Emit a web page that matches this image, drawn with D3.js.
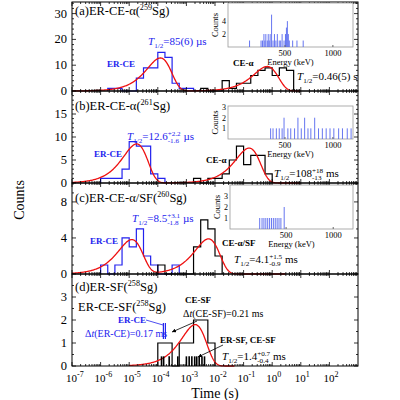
<!DOCTYPE html>
<html lang="en">
<head>
<meta charset="UTF-8">
<title>Sg decay time spectra</title>
<style>
  body { margin: 0; background: #fff; }
  svg text { font-family: "Liberation Serif", "DejaVu Serif", serif; }
</style>
</head>
<body>
<script src="https://cdn.jsdelivr.net/npm/d3@7/dist/d3.min.js"></script>
<div id="chart"></div>
<script>
// histogram bins are 0.25 decade wide, bin k starts at log10(t) = -7 + k/4
const aBlueStart = 5,  aBlueCounts  = [1, 1, 0, 0, 5, 9, 9, 15, 13, 3, 1, 1];
const aBlackStart = 18, aBlackCounts = [1, 0, 0, 4, 1, 3, 3, 6, 8, 9, 6, 9, 8];
const bBlueStart = 4,  bBlueCounts  = [1, 1, 1, 3, 9, 8, 8, 2, 1];
const bBlackStart = 17, bBlackCounts = [1, 0, 1, 1, 2, 5, 8, 4, 6, 6, 2];
const cBlueStart = 4,  cBlueCounts  = [1, 0, 1, 4, 3, 5, 2, 1, 0, 0, 1];
const cBlackStart = 12, cBlackCounts = [1, 0, 0, 0, 0, 3, 6, 5, 2];
const dBlackStart = 12, dBlackCounts = [1, 1, 0, 1, 1, 2, 2, 1];
// individual SF event times in panel (d), seconds
const dEventTimes = [1.35e-4, 1.6e-4, 2.5e-4, 5.0e-4, 1.0e-3, 1.25e-3, 1.55e-3, 1.95e-3, 2.3e-3, 2.8e-3, 3.5e-3, 4.3e-3];
// fit parameters: half-life (s) and peak height
const aFits = [[85e-6, 12.8], [0.46, 9.5]];
const bFits = [[12.6e-6, 8.5], [0.108, 7.6]];
const cFits = [[8.5e-6, 3.8], [4.1e-3, 3.9]];
const dFits = [[1.4e-3, 1.8]];
// inset energy spectra: [energy keV, counts]
const aInset = [[130,1],[250,1],[265,1],[280,2],[290,1],[300,2],[315,1],[325,2],[335,1],[345,2],[360,5],[375,1],[390,2],[405,1],[420,2],[440,1],[455,1],[470,2],[490,1],[505,2],[515,3],[525,4],[535,2],[545,1],[580,1],[625,1],[690,1]];
const bInset = [[350,1],[375,1],[410,1],[440,1],[470,1],[490,2],[530,1],[560,1],[600,1],[635,2],[670,1],[705,2],[740,1],[770,1],[810,2],[850,1],[890,1],[930,1],[970,1],[1010,1],[1060,1],[1100,1],[1150,1],[1190,1]];
const cInset = [[220,1],[245,1],[265,1],[285,1],[305,1],[325,1],[345,1],[365,1],[385,1],[405,1],[425,1],[445,1],[480,2]];
const xTickExps = [-7, -6, -5, -4, -3, -2, -1, 0, 1, 2];

const W = 400, H = 400, L = 72, R = 358;
const svg = d3.select("#chart").append("svg").attr("width", W).attr("height", H);
const x = d3.scaleLog().domain([1e-7, 1e3]).range([L, R]);
const BLUE = "#2222ee", RED = "#ee1111";

const panels = [
  { top: 2, bottom: 91, ymax: 34.5, ticks: [0, 10, 20, 30], minor: 2 },
  { top: 91, bottom: 183, ymax: 20, ticks: [0, 5, 10, 15], minor: 1 },
  { top: 183, bottom: 274, ymax: 10.1, ticks: [0, 4, 8], minor: 1 },
  { top: 274, bottom: 366, ymax: 4, ticks: [0, 1, 2, 3], minor: 0.5 }
];
panels.forEach(p => p.y = d3.scaleLinear().domain([0, p.ymax]).range([p.bottom, p.top]));

// rich text as a run of separate text pieces: [str, kind], kind n | i | sup | sub | ss ([sup, sub])
function rich(x0, y0, parts, size, color, bold) {
  const g = svg.append("g").attr("fill", color || "#000").attr("font-weight", bold ? "bold" : "normal");
  let cx = x0;
  const piece = (s, xx, yy, fs, italic) => {
    const t = g.append("text").attr("x", xx).attr("y", yy).attr("font-size", fs).text(s);
    if (italic) t.attr("font-style", "italic");
    return t.node().getComputedTextLength();
  };
  parts.forEach(([s, k]) => {
    if (k === "ss") {
      const w1 = piece(s[0], cx, y0 - size * 0.38, size * 0.65);
      const w2 = piece(s[1], cx, y0 + size * 0.3, size * 0.65);
      cx += Math.max(w1, w2) + size * 0.25;
    } else if (k === "sup") {
      cx += piece(s, cx, y0 - size * 0.4, size * 0.65);
    } else if (k === "sub") {
      cx += piece(s, cx, y0 + size * 0.28, size * 0.65);
    } else {
      cx += piece(s, cx, y0, size, k === "i");
    }
  });
}

function stepPath(p, start, counts) {
  const pts = [[x(Math.pow(10, -7 + start / 4)), p.y(0)]];
  counts.forEach((c, i) => {
    const x0 = x(Math.pow(10, -7 + (start + i) / 4)), x1 = x(Math.pow(10, -7 + (start + i + 1) / 4));
    pts.push([x0, p.y(c)], [x1, p.y(c)]);
  });
  pts.push([pts[pts.length - 1][0], p.y(0)]);
  return d3.line()(pts);
}

function fitCurve(p, fits, tmin, tmax) {
  const ts = d3.range(Math.log10(tmin), Math.log10(tmax), 0.02).map(v => Math.pow(10, v));
  const f = t => d3.sum(fits, ([h, a]) => { const u = t * Math.LN2 / h; return a * Math.E * u * Math.exp(-u); });
  return d3.line().x(t => x(t)).y(t => p.y(f(t)))(ts);
}

function drawPanel(p, hists, fits, trange) {
  hists.forEach(([start, counts, col]) =>
    svg.append("path").attr("d", stepPath(p, start, counts)).attr("fill", "none").attr("stroke", col).attr("stroke-width", 1.2));
  svg.append("path").attr("d", fitCurve(p, fits, trange[0], trange[1])).attr("fill", "none").attr("stroke", RED).attr("stroke-width", 1.3);
  svg.append("rect").attr("x", L).attr("y", p.top).attr("width", R - L).attr("height", p.bottom - p.top)
    .attr("fill", "none").attr("stroke", "#000").attr("stroke-width", 1);
  const ax = svg.append("g").attr("stroke", "#000").attr("stroke-width", 0.8);
  for (let e = -7; e < 3; e++) {
    for (let m = 1; m < 10; m++) {
      const xv = x(m * Math.pow(10, e)), len = m === 1 ? 4 : 2;
      if (xv > R) continue;
      ax.append("line").attr("x1", xv).attr("x2", xv).attr("y1", p.bottom).attr("y2", p.bottom - len);
      ax.append("line").attr("x1", xv).attr("x2", xv).attr("y1", p.top).attr("y2", p.top + len);
    }
  }
  d3.range(0, p.ymax, p.minor).forEach(v => {
    const major = p.ticks.includes(v), len = major ? 4 : 2, yv = p.y(v);
    ax.append("line").attr("x1", L).attr("x2", L + len).attr("y1", yv).attr("y2", yv);
    ax.append("line").attr("x1", R).attr("x2", R - len).attr("y1", yv).attr("y2", yv);
  });
  p.ticks.forEach(v => svg.append("text").attr("x", L - 5).attr("y", p.y(v) + 4)
    .attr("text-anchor", "end").attr("font-size", 12.5).text(v));
}

function drawInset(box, data, yticks, ymax) {
  const ex = d3.scaleLinear().domain([-95, 1210]).range([box.x0, box.x1]);
  const ey = d3.scaleLinear().domain([0, ymax]).range([box.y1, box.y0]);
  svg.append("rect").attr("x", box.x0).attr("y", box.y0).attr("width", box.x1 - box.x0).attr("height", box.y1 - box.y0)
    .attr("fill", "#fff").attr("stroke", "#999").attr("stroke-width", 0.8);
  data.forEach(([e, c]) => svg.append("line").attr("x1", ex(e)).attr("x2", ex(e)).attr("y1", ey(0)).attr("y2", ey(c))
    .attr("stroke", "#5566ee").attr("stroke-width", 0.9));
  [500, 1000].forEach(v => {
    svg.append("line").attr("x1", ex(v)).attr("x2", ex(v)).attr("y1", box.y1).attr("y2", box.y1 - 2).attr("stroke", "#666");
    svg.append("text").attr("x", ex(v)).attr("y", box.y1 + 9).attr("text-anchor", "middle").attr("font-size", 8.5).text(v);
  });
  yticks.forEach(v => svg.append("text").attr("x", box.x0 - 2).attr("y", ey(v) + 3)
    .attr("text-anchor", "end").attr("font-size", 8).text(v));
  svg.append("text").attr("transform", `translate(${box.x0 - 10},${(box.y0 + box.y1) / 2}) rotate(-90)`)
    .attr("text-anchor", "middle").attr("font-size", 8.5).text("Counts");
  svg.append("text").attr("x", (box.x0 + box.x1) / 2).attr("y", box.y1 + 18).attr("text-anchor", "middle")
    .attr("font-size", 8.5).text("Energy (keV)");
}

const [pa, pb, pc, pd] = panels;
drawPanel(pa, [[aBlueStart, aBlueCounts, BLUE], [aBlackStart, aBlackCounts, "#000"]], aFits, [1e-7, 10]);
drawPanel(pb, [[bBlueStart, bBlueCounts, BLUE], [bBlackStart, bBlackCounts, "#000"]], bFits, [1e-7, 10]);
drawPanel(pc, [[cBlueStart, cBlueCounts, BLUE], [cBlackStart, cBlackCounts, "#000"]], cFits, [1e-7, 3]);
drawPanel(pd, [[dBlackStart, dBlackCounts, "#000"]], dFits, [1e-5, 5e-2]);

// SF event rug in (d)
dEventTimes.forEach(t => svg.append("line").attr("x1", x(t)).attr("x2", x(t)).attr("y1", pd.y(0)).attr("y2", pd.y(0.42))
  .attr("stroke", "#000").attr("stroke-width", 1.6));
// ER-CE doublet marker in (d)
[-1, 1].forEach(o => svg.append("line").attr("x1", x(1.7e-4) + o).attr("x2", x(1.7e-4) + o)
  .attr("y1", pd.y(1.17)).attr("y2", pd.y(1.87)).attr("stroke", BLUE).attr("stroke-width", 1.2));

drawInset({ x0: 228, x1: 353, y0: 3, y1: 47 }, aInset, [2, 4], 6.8);
drawInset({ x0: 228, x1: 353, y0: 106, y1: 139 }, bInset, [1, 2, 3], 3.1);
drawInset({ x0: 230, x1: 353, y0: 185, y1: 229 }, cInset, [1, 2, 3], 4);

// panel texts
rich(75, 15, [["(a)", "n"], ["ER-CE-\u03b1(", "n"], ["259", "sup"], ["Sg)", "n"]], 12.5);
rich(148, 45, [["T", "i"], ["1/2", "sub"], ["=85(6) \u00b5s", "n"]], 11, BLUE);
rich(107, 67, [["ER-CE", "n"]], 9, BLUE, true);
rich(233, 66, [["CE-\u03b1", "n"]], 9, "#000", true);
rich(297, 80, [["T", "i"], ["1/2", "sub"], ["=0.46(5) s", "n"]], 11);

rich(75, 110, [["(b)", "n"], ["ER-CE-\u03b1(", "n"], ["261", "sup"], ["Sg)", "n"]], 12.5);
rich(127, 140, [["T", "i"], ["1/2", "sub"], ["=12.6", "n"], [["+2.2", "-1.6"], "ss"], ["\u00b5s", "n"]], 11, BLUE);
rich(94, 157, [["ER-CE", "n"]], 9, BLUE, true);
rich(206, 163, [["CE-\u03b1", "n"]], 9, "#000", true);
rich(274, 177, [["T", "i"], ["1/2", "sub"], ["=108", "n"], [["+18", "-13"], "ss"], ["ms", "n"]], 11);

rich(75, 202, [["(c)", "n"], ["ER-CE-\u03b1/SF(", "n"], ["260", "sup"], ["Sg)", "n"]], 12.5);
rich(132, 222, [["T", "i"], ["1/2", "sub"], ["=8.5", "n"], [["+3.1", "-1.8"], "ss"], ["\u00b5s", "n"]], 11, BLUE);
rich(90, 244, [["ER-CE", "n"]], 9, BLUE, true);
rich(222, 246, [["CE-\u03b1/SF", "n"]], 9, "#000", true);
rich(234, 263, [["T", "i"], ["1/2", "sub"], ["=4.1", "n"], [["+1.5", "-0.9"], "ss"], ["ms", "n"]], 11);

rich(75, 291, [["(d)", "n"], ["ER-SF(", "n"], ["258", "sup"], ["Sg)", "n"]], 12.5);
rich(78, 311, [["ER-CE-SF(", "n"], ["258", "sup"], ["Sg)", "n"]], 12.5);
rich(185, 303, [["CE-SF", "n"]], 9, "#000", true);
rich(183, 317, [["\u0394", "n"], ["t", "i"], ["(CE-SF)=0.21 ms", "n"]], 10);
rich(118, 323, [["ER-CE", "n"]], 9, BLUE, true);
rich(85, 337, [["\u0394", "n"], ["t", "i"], ["(ER-CE)=0.17 ms", "n"]], 10, BLUE);
rich(220, 343, [["ER-SF, CE-SF", "n"]], 9, "#000", true);
rich(222, 360, [["T", "i"], ["1/2", "sub"], ["=1.4", "n"], [["+0.7", "-0.4"], "ss"], ["ms", "n"]], 11);

// arrows in (d)
svg.append("defs").append("marker").attr("id", "ar").attr("viewBox", "0 0 6 6").attr("refX", 6).attr("refY", 3)
  .attr("markerWidth", 5).attr("markerHeight", 5).attr("orient", "auto")
  .append("path").attr("d", "M0,0L6,3L0,6z").attr("fill", "#000");
svg.append("line").attr("x1", 197).attr("x2", 172).attr("y1", 321).attr("y2", 332).attr("stroke", "#000").attr("stroke-width", 0.8).attr("marker-end", "url(#ar)");
svg.append("line").attr("x1", 146).attr("x2", 163).attr("y1", 320).attr("y2", 325).attr("stroke", BLUE).attr("stroke-width", 0.8);
svg.append("line").attr("x1", 223).attr("x2", 198).attr("y1", 345).attr("y2", 357).attr("stroke", "#000").attr("stroke-width", 0.8).attr("marker-end", "url(#ar)");

// x tick labels
xTickExps.forEach(e => {
  const t = svg.append("text").attr("x", x(Math.pow(10, e)) - 6).attr("y", 382).attr("font-size", 11).text("10");
  t.append("tspan").attr("font-size", 8).attr("dy", -5).text(e);
});
svg.append("text").attr("x", (L + R) / 2).attr("y", 398).attr("text-anchor", "middle").attr("font-size", 14).text("Time (s)");
svg.append("text").attr("transform", "translate(24,200) rotate(-90)").attr("text-anchor", "middle").attr("font-size", 14).text("Counts");
</script>
</body>
</html>
